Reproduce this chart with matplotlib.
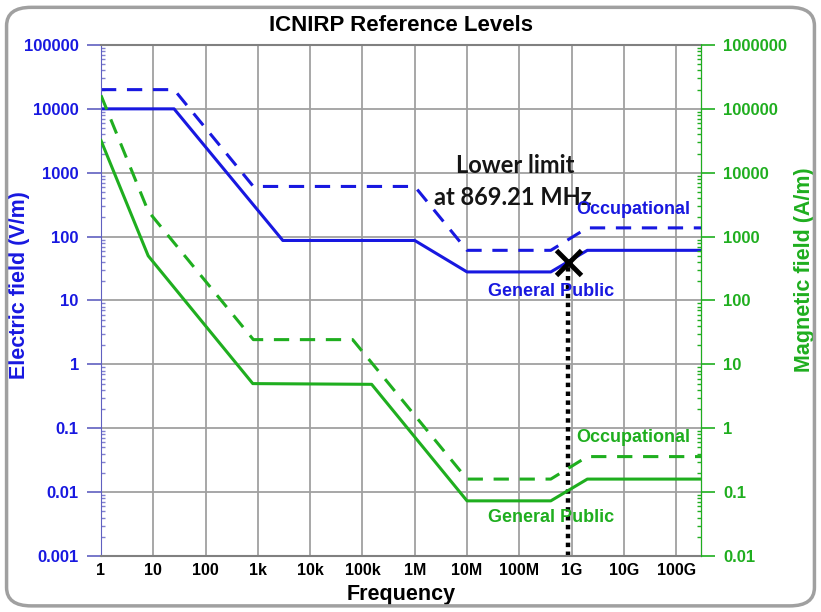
import matplotlib.pyplot as plt
from matplotlib.patches import FancyBboxPatch
from matplotlib.ticker import LogLocator, NullFormatter

# ICNIRP reference levels, breakpoints (Hz)
f_e_pub = [1, 25, 3e3, 1e6, 1e7, 4e8, 2e9, 3e11]
e_pub = [10000, 10000, 87, 87, 28, 28, 61, 61]           # V/m

f_e_occ = [1, 25, 820, 1e6, 1e7, 4e8, 2e9, 3e11]
e_occ = [20000, 20000, 610, 610, 61, 61, 137, 137]       # V/m

f_h_pub = [1, 8, 25, 800, 1.5e5, 1e7, 4e8, 2e9, 3e11]
h_pub = [32000, 500, 160, 5, 4.87, 0.073, 0.073, 0.16, 0.16]   # A/m

f_h_occ = [1, 8, 25, 820, 6.5e4, 1e7, 4e8, 2e9, 3e11]
h_occ = [163000, 2500, 800, 24.4, 24.4, 0.16, 0.16, 0.36, 0.36]  # A/m

limit_f = 869.21e6
limit_e = 40.5

x_ticks = [1, 10, 100, 1e3, 1e4, 1e5, 1e6, 1e7, 1e8, 1e9, 1e10, 1e11]
x_labels = ["1", "10", "100", "1k", "10k", "100k", "1M", "10M", "100M", "1G", "10G", "100G"]
e_ticks = [0.001, 0.01, 0.1, 1, 10, 100, 1000, 10000, 100000]
e_labels = ["0.001", "0.01", "0.1", "1", "10", "100", "1000", "10000", "100000"]
h_ticks = [0.01, 0.1, 1, 10, 100, 1000, 10000, 100000, 1000000]
h_labels = ["0.01", "0.1", "1", "10", "100", "1000", "10000", "100000", "1000000"]

blue = "#1818e0"
green = "#1fae1f"
plt.rcParams["font.family"] = ["Liberation Sans", "DejaVu Sans"]

fig = plt.figure(figsize=(8.21, 6.12), dpi=100)
fig.patches.append(FancyBboxPatch((0.008, 0.01), 0.984, 0.978,
                                  boxstyle="round,pad=0,rounding_size=0.03",
                                  transform=fig.transFigure, fill=False,
                                  ec="#a0a0a0", lw=2.5))
ax = fig.add_axes([0.123, 0.0915, 0.731, 0.835])
ax2 = ax.twinx()

dash = (0, (5, 3.5))
ax.plot(f_e_pub, e_pub, color=blue, lw=2.2)
ax.plot(f_e_occ, e_occ, color=blue, lw=2.2, linestyle=dash)
ax2.plot(f_h_pub, h_pub, color=green, lw=2.2)
ax2.plot(f_h_occ, h_occ, color=green, lw=2.2, linestyle=dash)

ax.plot([limit_f, limit_f], [0.001, limit_e], color="black", lw=3.2, linestyle=(0, (1, 1)))
ax.plot([limit_f], [limit_e], marker="x", color="black", markersize=18, mew=3.5)

ax.set_xscale("log")
ax.set_yscale("log")
ax2.set_yscale("log")
ax.set_xlim(1, 3e11)
ax.set_ylim(0.001, 100000)
ax2.set_ylim(0.01, 1000000)

ax.set_xticks(x_ticks)
ax.set_xticklabels(x_labels, fontsize=11.5, fontweight="bold")
ax.xaxis.set_minor_formatter(NullFormatter())
ax.tick_params(axis="x", which="both", length=0, pad=5)

ax.set_yticks(e_ticks)
ax.set_yticklabels(e_labels, fontsize=12, fontweight="bold", color=blue)
ax.yaxis.set_minor_locator(LogLocator(base=10, subs=range(2, 10), numticks=20))
ax.yaxis.set_minor_formatter(NullFormatter())
ax.tick_params(axis="y", which="major", length=10, width=1.2, color="#6060c0", pad=6)
ax.tick_params(axis="y", which="minor", length=3, width=1, color="#8080d0", direction="in")

ax2.set_yticks(h_ticks)
ax2.set_yticklabels(h_labels, fontsize=12, fontweight="bold", color=green)
ax2.yaxis.set_minor_locator(LogLocator(base=10, subs=range(2, 10), numticks=20))
ax2.yaxis.set_minor_formatter(NullFormatter())
ax2.tick_params(axis="y", which="major", length=10, width=1.2, color=green, pad=6)
ax2.tick_params(axis="y", which="minor", length=3, width=1, color=green, direction="in")

ax.grid(True, which="major", color="#a0a0a0", lw=1.3)
for s in ["top", "bottom"]:
    ax.spines[s].set_color("#808080")
    ax.spines[s].set_linewidth(1.5)
ax.spines["left"].set_color("#6060c0")
ax2.spines["right"].set_color(green)
ax2.spines["left"].set_visible(False)
ax2.spines["top"].set_visible(False)
ax2.spines["bottom"].set_visible(False)

ax.set_xlabel("Frequency", fontsize=15.5, fontweight="bold")
ax.xaxis.set_label_coords(0.5, -0.055)
ax.set_ylabel("Electric field (V/m)", fontsize=15.5, fontweight="bold", color=blue)
ax.yaxis.set_label_coords(-0.118, 0.53)
ax2.set_ylabel("Magnetic field (A/m)", fontsize=15.5, fontweight="bold", color=green,
               rotation=90)
ax2.yaxis.set_label_coords(1.155, 0.56)
ax.set_title("ICNIRP Reference Levels", fontsize=16, fontweight="bold", pad=10)

ax.text(10**7.93, 1320, "Lower limit", fontsize=17, fontweight="bold",
        family=["Lato", "DejaVu Sans"], ha="center", va="center", color="#151515")
ax.text(10**7.87, 405, "at 869.21 MHz", fontsize=17, fontweight="bold",
        family=["Lato", "DejaVu Sans"], ha="center", va="center", color="#151515")

ax.text(10**10.17, 262, "Occupational", fontsize=13, fontweight="bold", color=blue,
        ha="center", va="center")
ax.text(10**8.6, 14, "General Public", fontsize=13, fontweight="bold", color=blue,
        ha="center", va="center")
ax2.text(10**10.17, 0.71, "Occupational", fontsize=13, fontweight="bold", color=green,
         ha="center", va="center")
ax2.text(10**8.6, 0.04, "General Public", fontsize=13, fontweight="bold", color=green,
         ha="center", va="center")

fig.savefig("out.png", dpi=100)
